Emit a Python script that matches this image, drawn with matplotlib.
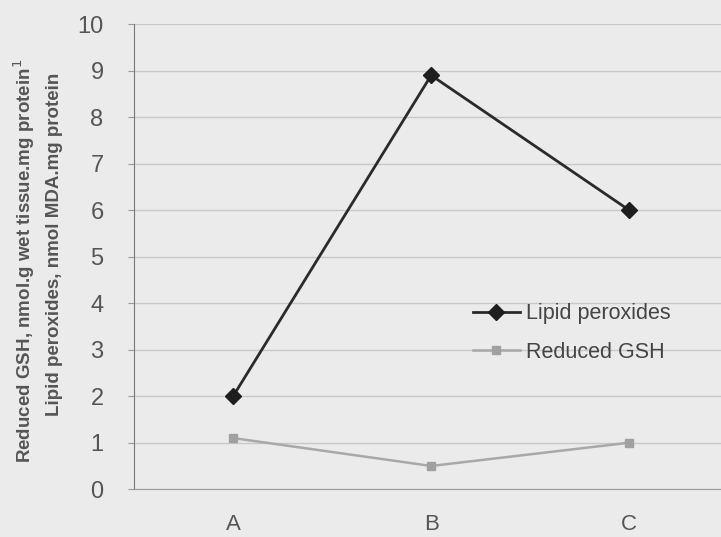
import matplotlib.pyplot as plt

plt.rcParams['font.family'] = ['Liberation Sans', 'DejaVu Sans']

# data
groups = ['A', 'B', 'C']
lipid = [2.0, 8.9, 6.0]
gsh = [1.1, 0.5, 1.0]
yticks = list(range(0, 11))

bg = '#ebebeb'
fig = plt.figure(figsize=(7.21, 5.37), dpi=100, facecolor=bg)
ax = fig.add_axes([0.186, 0.089, 0.824, 0.866], facecolor=bg)

x = range(len(groups))
ax.plot(x, lipid, color='#2a2a2a', lw=2, marker='D', ms=8,
        mfc='#1e1e1e', mec='#1e1e1e', label='Lipid peroxides')
ax.plot(x, gsh, color='#a8a8a8', lw=1.8, marker='s', ms=6,
        mfc='#a0a0a0', mec='#a0a0a0', label='Reduced GSH')

ax.set_xlim(-0.5, 2.5)
ax.set_ylim(0, 10)
ax.set_yticks(yticks)
ax.set_xticks(list(x))
ax.set_xticklabels(groups)
ax.yaxis.grid(True, color='#c8c8c8', lw=1)
ax.set_axisbelow(True)
for s in ['top', 'right']:
    ax.spines[s].set_visible(False)
ax.spines['left'].set_color('#777777')
ax.spines['bottom'].set_color('#9a9a9a')
ax.tick_params(axis='y', length=4, color='#999999', labelsize=17,
               labelcolor='#555555', pad=18)
ax.tick_params(axis='x', length=0, labelsize=16, labelcolor='#555555', pad=18)

fig.text(0.033, 0.514, 'Reduced GSH, nmol.g wet tissue.mg protein$^{1}$',
         rotation=90, ha='center', va='center', fontsize=13.5,
         fontweight='bold', color='#555555')
fig.text(0.076, 0.544, 'Lipid peroxides, nmol MDA.mg protein',
         rotation=90, ha='center', va='center', fontsize=13.5,
         fontweight='bold', color='#555555')

ax.legend(loc='center left', bbox_to_anchor=(0.537, 0.336), frameon=False,
          fontsize=15.5, labelcolor='#444444', handlelength=2.2,
          handletextpad=0.3, labelspacing=0.8)

fig.savefig('out.png', dpi=100, facecolor=bg)
